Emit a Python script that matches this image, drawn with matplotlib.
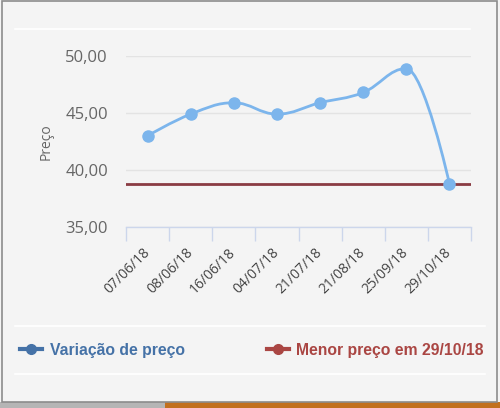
import numpy as np
import matplotlib.pyplot as plt
from matplotlib.path import Path
from matplotlib.patches import PathPatch, Rectangle
from matplotlib.lines import Line2D

datas = ["07/06/18", "08/06/18", "16/06/18", "04/07/18",
         "21/07/18", "21/08/18", "25/09/18", "29/10/18"]
precos = [43.0, 44.9, 45.9, 44.9, 45.9, 46.8, 48.9, 38.8]
menor_preco = 38.8
yticks = [35, 40, 45, 50]
ytick_labels = ["35,00", "40,00", "45,00", "50,00"]

blue = "#7cb5ec"
red_line = "#8a3b43"
leg_blue = "#4572a7"
leg_red = "#aa4643"
txt = "#666666"


def spline_path(xs, ys, smoothing=1.5):
    # Highcharts-style spline control points
    n = len(xs)
    left = [(xs[i], ys[i]) for i in range(n)]
    right = [(xs[i], ys[i]) for i in range(n)]
    d = smoothing + 1
    for i in range(1, n - 1):
        px, py = xs[i], ys[i]
        lx, ly = xs[i - 1], ys[i - 1]
        nx, ny = xs[i + 1], ys[i + 1]
        lcx = (smoothing * px + lx) / d
        lcy = (smoothing * py + ly) / d
        rcx = (smoothing * px + nx) / d
        rcy = (smoothing * py + ny) / d
        corr = (rcy - lcy) * (rcx - px) / (rcx - lcx) + py - rcy
        lcy += corr
        rcy += corr
        if lcy > ly and lcy > py:
            lcy = max(ly, py)
            rcy = 2 * py - lcy
        elif lcy < ly and lcy < py:
            lcy = min(ly, py)
            rcy = 2 * py - lcy
        if rcy > ny and rcy > py:
            rcy = max(ny, py)
            lcy = 2 * py - rcy
        elif rcy < ny and rcy < py:
            rcy = min(ny, py)
            lcy = 2 * py - rcy
        left[i] = (lcx, lcy)
        right[i] = (rcx, rcy)
    verts = [(xs[0], ys[0])]
    codes = [Path.MOVETO]
    for i in range(1, n):
        verts += [right[i - 1], left[i], (xs[i], ys[i])]
        codes += [Path.CURVE4] * 3
    return Path(verts, codes)


fig = plt.figure(figsize=(5, 4.08), dpi=100)
fig.patch.set_facecolor("#f4f4f4")

# card border and page behind it
fig.patches.append(Rectangle((0, 0), 0.33, 6 / 408, transform=fig.transFigure,
                             facecolor="#b5b5b5", edgecolor="none"))
fig.patches.append(Rectangle((0.33, 0), 0.67, 6 / 408, transform=fig.transFigure,
                             facecolor="#c2701e", edgecolor="none"))
fig.patches.append(Rectangle((2 / 500, 6 / 408), 495 / 500, 401 / 408,
                             transform=fig.transFigure, facecolor="none",
                             edgecolor="#8c8c8c", lw=1.2))
for yy, x1 in [(29, 470), (326, 485), (374, 485)]:
    fig.add_artist(Line2D([15 / 500, x1 / 500], [1 - yy / 408, 1 - yy / 408],
                          color="#ffffff", lw=1.2))

ax = fig.add_axes([126 / 500, 1 - 227 / 408, 345 / 500, 171 / 408])
ax.set_facecolor("none")
x = np.arange(len(datas))

ax.plot([-0.5, len(datas) - 0.5], [menor_preco, menor_preco], color=red_line, lw=2, zorder=2)
ax.add_patch(PathPatch(spline_path(x, precos), facecolor="none", edgecolor=blue, lw=2, zorder=3))
ax.plot(x, precos, "o", color=blue, ms=8, zorder=4)

ax.set_xlim(-0.5, len(datas) - 0.5)
ax.set_ylim(35, 50)
ax.set_yticks(yticks)
ax.set_yticklabels(ytick_labels, fontfamily="Open Sans", fontsize=12, color=txt)
ax.tick_params(axis="y", length=0, pad=13)
ax.grid(axis="y", color="#e3e3e3", lw=1)
ax.set_axisbelow(True)

ax.set_xticks(x)
ax.set_xticklabels(datas, rotation=45, ha="right", va="center", rotation_mode="anchor",
                   fontfamily="Open Sans", fontsize=10, color="#444444")
ax.tick_params(axis="x", which="major", length=0, pad=17)
ax.set_xticks(np.arange(-0.5, len(datas)), minor=True)
ax.tick_params(axis="x", which="minor", length=10, width=1, color="#ccd6eb")

for s in ["top", "right", "left"]:
    ax.spines[s].set_visible(False)
ax.spines["bottom"].set_color("#ccd6eb")
ax.spines["bottom"].set_linewidth(1)

ax.set_ylabel("Preço", fontfamily="Open Sans", fontsize=10, color=txt, labelpad=8)

h1 = Line2D([], [], color=leg_blue, lw=3, marker="o", ms=7)
h2 = Line2D([], [], color=leg_red, lw=3, marker="o", ms=7)
props = {"family": "Liberation Sans", "weight": "bold", "size": 11.3}
leg1 = fig.legend([h1], ["Variação de preço"], loc="center left",
                  bbox_to_anchor=(0.012, 1 - 350 / 408), frameon=False, handlelength=1.4,
                  handletextpad=0.5, prop=props)
leg1.get_texts()[0].set_color(leg_blue)
leg2 = fig.legend([h2], ["Menor preço em 29/10/18"], loc="center left",
                  bbox_to_anchor=(0.505, 1 - 350 / 408), frameon=False, handlelength=1.4,
                  handletextpad=0.5, prop=props)
leg2.get_texts()[0].set_color(leg_red)

fig.savefig("out.png", dpi=100, facecolor=fig.get_facecolor())
